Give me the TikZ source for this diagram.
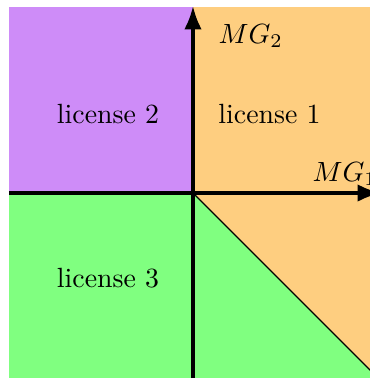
\documentclass[tikz,border=0pt]{standalone}
\usetikzlibrary{arrows.meta}
\definecolor{lpurple}{RGB}{206,140,248}
\definecolor{lorange}{RGB}{254,206,128}
\definecolor{lgreen}{RGB}{128,255,128}
\tikzset{
  axis/.style={line width=1.2pt,-{Latex}},
  lbl/.style={inner sep=0pt,anchor=base},
}
\begin{document}
\begin{tikzpicture}[x=0.3597pt,y=-0.3597pt]
\clip (0,0) rectangle (370,379);
\coordinate (O) at (193,193);
% regions
\fill[lpurple] (9,7) rectangle (193,193);
\fill[lorange] (193,7) rectangle (390,193);
\fill[lorange] (193,193) -- (390,193) -- (390,390) -- cycle;
\fill[lgreen] (9,193) rectangle (193,378);
\fill[lgreen] (193,193) -- (378,378) -- (193,378) -- cycle;
\fill[lgreen] (193,193) -- (390,390) -- (390,378) -- (193,378) -- cycle;
\fill[white] (0,378) rectangle (370,379);
% diagonal
\coordinate (D) at (390,390);
\draw[line width=0.4pt] (O) -- (D);
% axes
\coordinate (xs) at (9,193);
\coordinate (xe) at (381,193);
\coordinate (ys) at (193,378);
\coordinate (ye) at (193,6);
\draw[axis] (xs) -- (xe);
\draw[axis] (ys) -- (ye);
% labels
\node[inner sep=0pt,anchor=base west] (mg2) at (218,43) {$MG_2$};
\node[inner sep=0pt,anchor=base west] (mg1) at (312,181) {$MG_1$};
\node[lbl] (l2) at (108,123) {license 2};
\node[lbl] (l1) at (269.5,123) {license 1};
\node[lbl] (l3) at (108,287) {license 3};
\end{tikzpicture}
\end{document}
